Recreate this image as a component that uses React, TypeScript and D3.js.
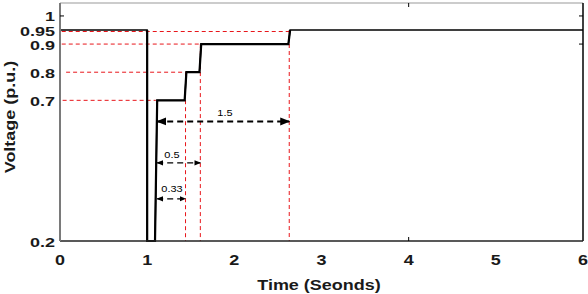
import React from "react";
import * as d3 from "d3";

// voltage profile (time in s, voltage in p.u.)
const stepTime = [0, 1.0, 1.0, 1.09, 1.115, 1.43, 1.45, 1.6, 1.62, 2.62, 2.64, 6];
const stepVolt = [0.95, 0.95, 0.2, 0.2, 0.7, 0.7, 0.8, 0.8, 0.9, 0.9, 0.95, 0.95];

// red dashed guide lines
const hGuides = [
  { v: 0.95, t0: 0.02, t1: 2.63 },
  { v: 0.9, t0: 0.02, t1: 1.61 },
  { v: 0.8, t0: 0.07, t1: 1.44 },
  { v: 0.7, t0: 0.03, t1: 1.1 },
];
const vGuides = [
  { t: 1.44, v: 0.8 },
  { t: 1.61, v: 0.9 },
  { t: 2.63, v: 0.95 },
];

// duration arrows
const arrowStart = 1.115;
const arrows = [
  { label: "1.5", end: 2.63, level: 0.625, w: 2 },
  { label: "0.5", end: 1.61, level: 0.478, w: 1.3 },
  { label: "0.33", end: 1.44, level: 0.35, w: 1.3 },
];

const xTicks = [0, 1, 2, 3, 4, 5, 6];
const yTicks = [0.2, 0.7, 0.8, 0.9, 0.95, 1];

const W = 588;
const H = 294;
const left = 60, right = 583, top = 3, bottom = 241;

export default function App() {
  const x = d3.scaleLinear().domain([0, 6]).range([left, right]);
  const y = d3.scaleLinear().domain([0.2, 1.046]).range([bottom, top]);

  const pts: [number, number][] = stepTime.map((t, i) => [x(t), y(stepVolt[i])]);
  const line = d3.line();
  const thin = line(pts) as string;
  const thick = line(pts.slice(1, 11)) as string;

  const font = "'Liberation Sans', Arial, sans-serif";
  const red = "#e8161b";

  return (
    <svg width={W} height={H} style={{ position: "absolute", left: 0, top: 0 }}
      fontFamily={font}>
      <defs>
        <marker id="ah" viewBox="0 0 10 10" refX="9" refY="5" markerWidth="5" markerHeight="5" orient="auto-start-reverse">
          <path d="M0,1 L10,5 L0,9 z" fill="#000" />
        </marker>
      </defs>
      <rect x={left} y={top} width={right - left} height={bottom - top} fill="#fff" />

      {hGuides.map((g, i) => (
        <line key={"h" + i} x1={x(g.t0)} x2={x(g.t1)} y1={y(g.v) + (g.v === 0.95 ? 1.5 : 0)} y2={y(g.v) + (g.v === 0.95 ? 1.5 : 0)}
          stroke={red} strokeWidth={1} strokeDasharray="4,3" />
      ))}
      {vGuides.map((g, i) => (
        <line key={"v" + i} x1={x(g.t)} x2={x(g.t)} y1={y(g.v)} y2={bottom}
          stroke={red} strokeWidth={1} strokeDasharray="4,3" />
      ))}

      <path d={thin} fill="none" stroke="#000" strokeWidth={1.4} />
      <path d={thick} fill="none" stroke="#000" strokeWidth={2.2} />

      {arrows.map((a, i) => (
        <g key={"a" + i}>
          <line x1={x(arrowStart)} x2={x(a.end)} y1={y(a.level)} y2={y(a.level)}
            stroke="#000" strokeWidth={a.w} strokeDasharray="6,4"
            markerStart="url(#ah)" markerEnd="url(#ah)" />
          <text transform={`translate(${i === 0 ? 225 : 172},${y(a.level) - (i === 2 ? 7 : 5)}) scale(1,0.85)`}
            fontSize={11} textAnchor="middle" fill="#000">{a.label}</text>
        </g>
      ))}

      {/* frame */}
      <line x1={left} x2={right} y1={top} y2={top} stroke="#999" strokeWidth={1} />
      <line x1={right} x2={right} y1={top} y2={bottom} stroke="#000" strokeWidth={1.5} />
      <line x1={left} x2={right} y1={bottom} y2={bottom} stroke="#222" strokeWidth={1.5} />
      <line x1={left} x2={left} y1={top} y2={bottom} stroke="#7a7a7a" strokeWidth={2} />
      <line x1={x(4)} x2={x(4)} y1={top} y2={top + 4} stroke="#000" />
      <line x1={x(4)} x2={x(4)} y1={bottom} y2={bottom - 4} stroke="#000" />
      <line x1={left} x2={left + 4} y1={y(1)} y2={y(1)} stroke="#000" />
      <line x1={right} x2={right - 4} y1={y(1)} y2={y(1)} stroke="#000" />
      <line x1={right} x2={right - 4} y1={y(0.9)} y2={y(0.9)} stroke="#000" />

      {yTicks.map((t) => (
        <text key={"yt" + t} transform={`translate(55,${y(t) + 5.5}) scale(1,0.76)`}
          fontSize={18} fontWeight="bold" textAnchor="end" fill="#1a1a1a">{t}</text>
      ))}
      {xTicks.map((t) => (
        <text key={"xt" + t} transform={`translate(${x(t)},${265}) scale(1,0.85)`}
          fontSize={18} fontWeight="bold" textAnchor="middle" fill="#1a1a1a">{t}</text>
      ))}

      <text transform={`translate(319,290) scale(1,0.85)`} fontSize={18} fontWeight="bold"
        textAnchor="middle" fill="#1a1a1a">Time (Seonds)</text>
      <text transform={`translate(15,117) rotate(-90) scale(1,0.85)`} fontSize={18} fontWeight="bold"
        textAnchor="middle" fill="#1a1a1a">Voltage (p.u.)</text>
    </svg>
  );
}
